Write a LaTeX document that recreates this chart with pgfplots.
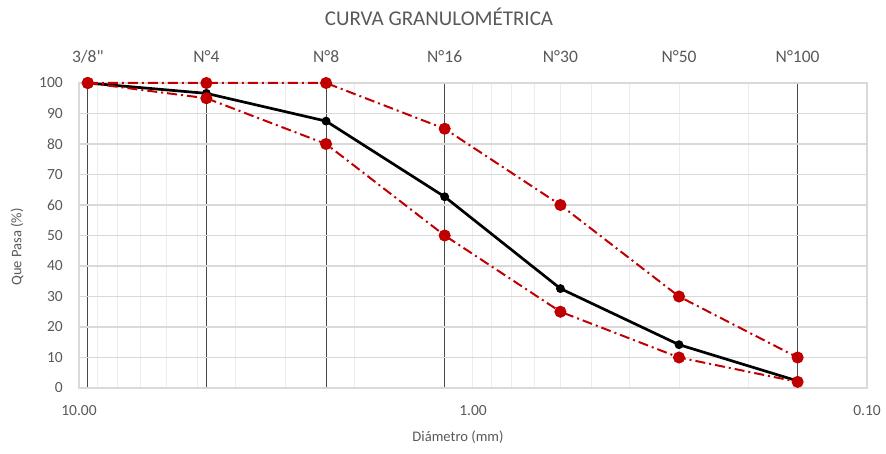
\documentclass[border=0pt]{standalone}
\usepackage{pgfplots}
\pgfplotsset{compat=1.18}
\usepackage{fontspec}
\setmainfont{Carlito}[Ligatures=TeXOff]
\definecolor{txt}{HTML}{595959}
\definecolor{gridc}{HTML}{D9D9D9}
\definecolor{minorc}{HTML}{EDEDED}
\definecolor{sieve}{HTML}{474747}
\definecolor{redc}{HTML}{C00000}
\begin{document}
\begin{tikzpicture}
\path[use as bounding box] (-79pt,-66pt) rectangle (807pt,388pt);
% sieve axis (background, top labels)
\begin{axis}[at={(0,0)}, anchor=south west, scale only axis,
  width=788pt, height=305pt,
  xmode=log, x dir=reverse, xmin=0.1, xmax=10, ymin=0, ymax=100,
  xtick={9.5,4.75,2.36,1.18,0.6,0.3,0.15},
  xticklabels={3/8", N°4, N°8, N°16, N°30, N°50, N°100},
  xticklabel pos=right, ytick=\empty,
  xmajorgrids, major grid style={sieve, line width=1pt},
  major tick length=0pt, axis line style={draw=none},
  xticklabel style={anchor=center, yshift=26pt, text=txt, font=\fontsize{17.5}{20}\selectfont},
]
\addplot[draw=none] coordinates {(1,50)};
\end{axis}
% main axis
\begin{axis}[at={(0,0)}, anchor=south west, scale only axis,
  width=788pt, height=305pt,
  xmode=log, x dir=reverse, xmin=0.1, xmax=10, ymin=0, ymax=100,
  xtick={0.1,1,10}, xticklabels={0.10,1.00,10.00},
  minor xtick={0.2,0.3,0.4,0.5,0.6,0.7,0.8,0.9,2,3,4,5,6,7,8,9},
  ytick={0,10,...,100},
  /pgf/number format/assume math mode=true,
  xmajorgrids, xminorgrids, ymajorgrids,
  major grid style={gridc, line width=1.2pt},
  minor grid style={minorc, line width=1pt},
  x grid style={minorc, line width=1pt},
  major tick length=0pt, minor tick length=0pt,
  axis line style={gridc, line width=1.2pt},
  xticklabel style={anchor=center, yshift=-23pt, text=txt, font=\fontsize{15.5}{18}\selectfont},
  yticklabel style={anchor=east, inner sep=0pt, xshift=-16pt, text=txt, font=\fontsize{15.5}{18}\selectfont},
  clip=false,
]
\addplot[black, line width=2.7pt, mark=*, mark size=3pt] coordinates {
(9.5,100) (4.75,96.6) (2.36,87.5) (1.18,62.7) (0.6,32.6) (0.3,14.2) (0.15,2.3)};
\addplot[redc, line width=2pt, dash pattern=on 10pt off 4pt on 2pt off 4pt,
  mark=*, mark size=5pt, mark options={solid}] coordinates {
(9.5,100) (4.75,100) (2.36,100) (1.18,85) (0.6,60) (0.3,30) (0.15,10)};
\addplot[redc, line width=2pt, dash pattern=on 10pt off 4pt on 2pt off 4pt,
  mark=*, mark size=5pt, mark options={solid}] coordinates {
(9.5,100) (4.75,95) (2.36,80) (1.18,50) (0.6,25) (0.3,10) (0.15,2)};
\end{axis}
\node[text=txt, font=\fontsize{21}{24}\selectfont] at (360pt,371pt) {CURVA GRANULOMÉTRICA};
\node[text=txt, font=\fontsize{14.6}{17}\selectfont, rotate=90] at (-62pt,141pt) {Que Pasa (\%)};
\node[text=txt, font=\fontsize{14.6}{17}\selectfont] at (379pt,-49pt) {Diámetro (mm)};
\end{tikzpicture}
\end{document}
